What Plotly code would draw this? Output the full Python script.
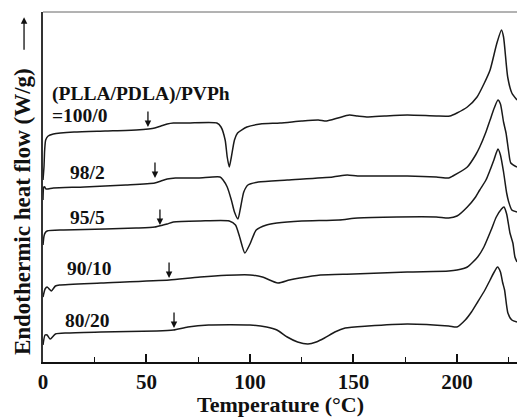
import plotly.graph_objects as go

# Temperature (°C) / relative heat flow (arbitrary units, curves already offset)
T1 = [0, 0.5, 0.8, 1.3, 2.5, 5, 15, 30, 45, 51, 54, 57, 60, 63, 70, 84, 86, 88, 89, 90, 91, 92.5, 94, 98.5,
      105, 114.5, 125, 133, 137, 142.5, 148, 152, 157, 165, 176, 190, 196.6, 200, 205, 209.7, 213, 216,
      219.3, 221.5, 222.5, 224.5, 226.5, 229]
H1 = [182, 196, 212, 222, 226, 228, 230, 231, 232, 233, 234, 236, 238, 239, 239, 239, 235, 222, 205, 195, 205,
      222, 229, 235, 238, 239, 241, 242, 241, 244, 247, 246, 245, 246, 247, 246, 246, 249, 255, 265, 278, 292,
      319, 332, 325, 285, 269, 262]

T2 = [0, 0.4, 0.8, 1.5, 5, 20, 40, 54, 57, 60, 64, 75, 85.5, 87, 89, 91, 92.5, 94.2, 95.5, 97, 99, 104, 118,
      140, 147, 152, 176, 190, 196, 198, 205, 209, 211, 214, 216, 218, 219.8, 221, 222.5, 223.7, 225, 226, 229]
H2 = [162, 175, 175, 173, 174, 175, 177, 179, 181, 183, 184, 184, 185, 182, 175, 162, 150, 143, 155, 170, 177,
      180, 182, 185, 187, 186, 186, 185, 184, 186, 195, 207, 215, 230, 242, 254, 262, 258, 240, 229, 210, 199, 195]

T3 = [0, 0.5, 1, 2, 10, 30, 45, 54, 58, 60, 63, 76, 90, 93, 95, 97.5, 100, 103, 108, 113, 125, 143, 152, 171,
      190, 196, 200, 205, 209, 211, 214, 216, 218, 219.8, 221, 222.5, 224, 225, 226.5, 229]
H3 = [117, 126, 129, 131, 132, 133, 134, 135, 137, 138, 140, 141, 141, 137, 125, 109, 118, 132, 137, 139, 141,
      142, 144, 145, 145, 144, 146, 155, 165, 172, 182, 192, 203, 213, 207, 190, 169, 160, 152, 150]

T4 = [0, 1, 2, 3, 4, 6, 8, 28, 61, 76, 100, 106, 113.5, 119, 124, 134, 150, 176, 196, 200, 205, 210, 213,
      216.5, 219, 221.5, 222.7, 224, 225.6, 227, 228, 229]
H4 = [65, 73, 75, 73, 71, 76, 77, 79, 82, 85, 87, 85, 79, 82, 84, 87, 88, 90, 91, 92, 95, 105, 115, 132, 145,
      153, 155, 148, 129, 119, 105, 100]

T5 = [0, 1, 2, 3.5, 6, 12, 28, 55, 63, 70, 80, 100, 108, 113, 118, 123, 128, 132, 136, 141, 146, 157, 176,
      196, 200, 204, 207, 210, 213.5, 216, 218, 219.6, 221, 222, 223, 224.6, 226.5, 229]
H5 = [17, 27, 27, 23, 28, 29, 30, 31, 32, 35, 37, 37, 35, 32, 25, 20, 18, 20, 24, 30, 34, 36, 38, 36, 35, 42,
      50, 60, 72, 82, 90, 95, 90, 80, 72, 49, 42, 40]

curves = [(T1, H1), (T2, H2), (T3, H3), (T4, H4), (T5, H5)]

labels = ["=100/0", "98/2", "95/5", "90/10", "80/20"]
label_T = [3.5, 12, 12, 10.5, 9.5]
label_H = [247, 190, 145, 94, 42]

arrow_T = [50.7, 54.1, 56.5, 60.9, 63.3]
arrow_H = [235, 184, 137, 84, 34]

xticks = [0, 50, 100, 150, 200]

FONT = "Liberation Serif"

fig = go.Figure()
for T, H in curves:
    fig.add_trace(go.Scatter(x=T, y=H, mode="lines",
                             line=dict(color="#1a1a1a", width=1.5, shape="spline", smoothing=0.6),
                             showlegend=False, hoverinfo="skip"))

ann = []
ann.append(dict(x=3.5, y=268, xref="x", yref="y", text="<b>(PLLA/PDLA)/PVPh</b>", showarrow=False,
                xanchor="left", yanchor="middle", font=dict(family=FONT, size=19.5, color="#111")))
for lab, lt, lh in zip(labels, label_T, label_H):
    ann.append(dict(x=lt, y=lh, xref="x", yref="y", text="<b>" + lab + "</b>", showarrow=False,
                    xanchor="left", yanchor="middle", font=dict(family=FONT, size=19.5, color="#111")))
for at, ah in zip(arrow_T, arrow_H):
    ann.append(dict(x=at, y=ah, xref="x", yref="y", text="", showarrow=True, ax=0, ay=-17,
                    arrowhead=2, arrowsize=1, arrowwidth=1.3, arrowcolor="#111"))
ann.append(dict(x=0.5, y=-0.122, xref="paper", yref="paper", text="<b>Temperature (°C)</b>",
                showarrow=False, xanchor="center", yanchor="middle",
                font=dict(family=FONT, size=22, color="#111")))
ann.append(dict(x=-0.043, y=0.43, xref="paper", yref="paper", text="<b>Endothermic heat flow (W/g)</b>",
                showarrow=False, textangle=-90, xanchor="center", yanchor="middle",
                font=dict(family=FONT, size=23, color="#111")))
ann.append(dict(x=-0.04, y=0.985, xref="paper", yref="paper", text="", showarrow=True,
                ax=0, ay=34, arrowhead=2, arrowsize=1, arrowwidth=1.3, arrowcolor="#111"))

fig.update_layout(
    width=517, height=418,
    margin=dict(l=43, r=0, t=12, b=56),
    paper_bgcolor="white", plot_bgcolor="white",
    annotations=ann,
    shapes=[dict(type="line", xref="paper", yref="paper", x0=0, x1=1, y0=1, y1=1,
                 line=dict(color="#666", width=1))],
    xaxis=dict(range=[0, 229], tickvals=xticks, ticktext=["<b>%d</b>" % v for v in xticks],
               ticks="inside", ticklen=8, tickwidth=1.5, tickcolor="#111",
               showline=True, linecolor="#111", linewidth=2, mirror=False,
               showgrid=False, zeroline=False,
               tickfont=dict(family=FONT, size=21, color="#111"),
               minor=dict(tickvals=[25, 75, 125, 175, 225], ticks="inside", ticklen=5,
                          tickwidth=1.2, tickcolor="#111")),
    yaxis=dict(range=[0, 350], showticklabels=False, ticks="", showline=True, linecolor="#333",
               linewidth=1.5, showgrid=False, zeroline=False),
)

fig.write_html("out.html")
